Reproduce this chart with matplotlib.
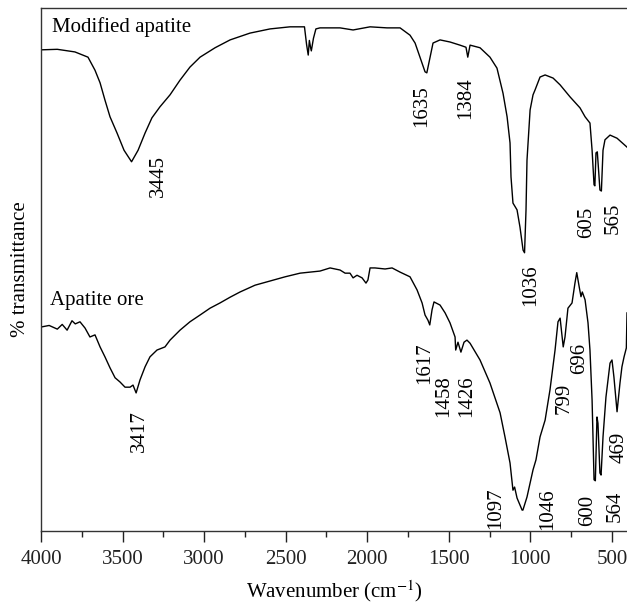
import matplotlib
matplotlib.use("Agg")
import matplotlib.pyplot as plt
from matplotlib.ticker import MultipleLocator

# Modified apatite spectrum (wavenumber, % transmittance, arbitrary scale)
mod_wn = [4000, 3900, 3792, 3712, 3669, 3638, 3608, 3577, 3534, 3491, 3445,
          3405, 3362, 3320, 3271, 3209, 3148, 3087, 3025, 2933, 2841, 2719,
          2596, 2474, 2385, 2372, 2362, 2355, 2348, 2343, 2330, 2315, 2290,
          2167, 2087, 1983, 1879, 1799, 1738, 1707, 1677, 1646, 1635, 1615,
          1597, 1554, 1493, 1432, 1395, 1384, 1370, 1309, 1248, 1205, 1168,
          1143, 1125, 1119, 1107, 1082, 1064, 1045, 1036, 1027, 1021, 1002,
          984, 972, 941, 910, 861, 818, 757, 696, 665, 635, 622, 610, 605,
          598, 590, 580, 574, 565, 555, 543, 512, 469, 408]
mod_t = [92.0, 92.1, 91.6, 90.6, 88.1, 85.7, 82.4, 79.2, 76.1, 72.8, 70.6,
         72.8, 76.1, 79.0, 81.1, 83.4, 86.2, 88.7, 90.6, 92.4, 93.9, 95.2,
         96.0, 96.4, 96.4, 93.0, 91.0, 93.8, 92.5, 91.8, 94.2, 96.0, 96.2,
         96.2, 95.8, 96.4, 96.2, 96.2, 94.8, 93.3, 90.6, 87.8, 87.6, 90.6,
         93.3, 93.9, 93.5, 92.9, 92.5, 90.6, 92.9, 92.4, 90.6, 88.5, 83.7,
         79.2, 74.2, 67.7, 62.7, 61.4, 58.1, 53.7, 53.2, 61.4, 70.9, 80.5,
         83.4, 84.3, 86.8, 87.2, 86.6, 85.3, 83.0, 80.9, 79.2, 78.0, 72.8,
         66.2, 66.0, 72.3, 72.5, 68.0, 65.2, 65.0, 72.8, 74.8, 75.7, 75.1,
         73.4]

# Apatite ore spectrum
ore_wn = [4000, 3950, 3900, 3870, 3840, 3810, 3790, 3761, 3730, 3700, 3669,
          3638, 3608, 3577, 3546, 3516, 3485, 3454, 3436, 3417, 3393, 3362,
          3332, 3289, 3240, 3209, 3148, 3087, 3025, 2964, 2903, 2841, 2780,
          2688, 2596, 2504, 2412, 2290, 2228, 2167, 2136, 2106, 2087, 2063,
          2032, 2008, 1996, 1983, 1953, 1891, 1848, 1799, 1738, 1695, 1664,
          1646, 1628, 1617, 1603, 1591, 1554, 1523, 1493, 1462, 1458, 1444,
          1426, 1407, 1389, 1370, 1309, 1248, 1186, 1156, 1125, 1107, 1097,
          1082, 1051, 1046, 1021, 984, 966, 941, 910, 880, 849, 831, 818, 799,
          788, 770, 745, 727, 716, 700, 690, 682, 665, 647, 635, 622, 610,
          602, 592, 586, 574, 567, 555, 537, 512, 500, 488, 469, 451, 439,
          426, 412, 408]
ore_t = [39.0, 39.3, 38.6, 39.5, 38.4, 40.2, 39.6, 40.0, 38.8, 37.1, 37.5,
         35.2, 33.3, 31.2, 29.3, 28.5, 27.5, 27.5, 27.9, 26.4, 28.9, 31.4,
         33.3, 34.6, 35.2, 36.5, 38.4, 40.0, 41.3, 42.6, 43.6, 44.7, 45.7,
         47.0, 47.8, 48.6, 49.3, 49.7, 50.3, 49.9, 49.3, 49.3, 48.4, 48.9,
         48.4, 47.4, 48.0, 50.3, 50.3, 50.1, 50.3, 49.5, 48.6, 46.1, 43.6,
         41.3, 40.3, 39.4, 42.3, 43.8, 43.2, 41.7, 39.8, 37.1, 34.6, 36.1,
         34.2, 36.1, 36.5, 35.9, 32.7, 28.3, 22.6, 18.0, 13.0, 7.8, 8.4,
         6.3, 4.0, 4.0, 6.5, 11.7, 13.6, 18.0, 21.2, 27.0, 34.6, 40.0, 40.7,
         35.2, 37.1, 42.6, 43.6, 47.4, 49.4, 46.5, 44.8, 45.7, 44.2, 39.8,
         34.6, 25.0, 9.8, 9.6, 21.8, 20.6, 11.1, 10.7, 18.0, 25.6, 32.1,
         32.7, 29.4, 22.8, 28.3, 31.4, 33.3, 35.0, 41.7]

# peak labels: (text, x, y of the text top)
mod_labels = [("3445", 3283, 71.9), ("1635", 1664, 85.3), ("1384", 1395, 86.8),
              ("1036", 996, 50.9), ("605", 653, 62.0), ("565", 494, 62.7)]
ore_labels = [("3417", 3399, 23.1), ("1617", 1646, 36.1), ("1458", 1530, 29.8),
              ("1426", 1389, 29.8), ("1097", 1211, 8.4), ("1046", 892, 8.2),
              ("799", 794, 28.3), ("696", 696, 35.9), ("600", 647, 6.9),
              ("564", 481, 7.8), ("469", 457, 18.9)]

plt.rcParams["font.family"] = ["Liberation Serif", "DejaVu Serif"]
plt.rcParams["mathtext.fontset"] = "stix"

fig = plt.figure(figsize=(6.27, 6.03), dpi=100)
ax = fig.add_axes([41 / 627, 72 / 603, 586 / 627, 523 / 603])

ax.plot(mod_wn, mod_t, color="black", linewidth=1.0)
ax.plot(ore_wn, ore_t, color="black", linewidth=1.0)

for txt, x, y in mod_labels + ore_labels:
    ax.text(x, y, txt, rotation=90, ha="center", va="top", fontsize=15)

ax.text(0.019, 0.963, "Modified apatite", transform=ax.transAxes,
        fontsize=15, va="center", ha="left")
ax.text(0.015, 0.441, "Apatite ore", transform=ax.transAxes,
        fontsize=15, va="center", ha="left")

ax.set_xlim(4000, 408)
ax.set_ylim(0, 100)
ax.xaxis.set_major_locator(MultipleLocator(500))
ax.xaxis.set_minor_locator(MultipleLocator(250))
ax.tick_params(axis="x", which="major", direction="out", length=8,
               width=1, labelsize=15, colors="#222222", pad=6)
ax.tick_params(axis="x", which="minor", direction="out", length=4, width=1,
               colors="#222222")
ax.set_yticks([])
ax.spines["right"].set_visible(False)
for s in ["left", "top", "bottom"]:
    ax.spines[s].set_color("#333333")
    ax.spines[s].set_linewidth(1.0)

ax.set_xlabel("Wavenumber (cm$^{-1}$)", fontsize=15, labelpad=6)
ax.set_ylabel("% transmittance", fontsize=15, labelpad=8)

fig.savefig("out.png", dpi=100)
